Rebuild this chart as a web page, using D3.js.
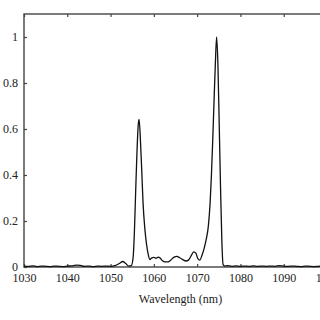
<!DOCTYPE html>
<html><head><meta charset="utf-8">
<script src="https://cdn.jsdelivr.net/npm/d3@7"></script>
<style>html,body{margin:0;padding:0;background:#fff;}svg{display:block;}</style>
</head><body>
<svg id="c" width="320" height="320"></svg>
<script>
const wavelength = [1030,1031,1032,1033,1034,1035,1036,1037,1038,1039,1040,1041,1042,1043,1044,1045,1046,1047,1048,1049,1050,1051,1052,1052.8,1053.5,1054.2,1054.8,1055.2,1055.5,1055.8,1056.1,1056.4,1056.6,1056.9,1057.2,1057.5,1057.9,1058.3,1058.7,1059.1,1059.5,1060,1060.5,1061,1061.5,1062,1062.6,1063.3,1064,1064.7,1065.3,1066,1066.7,1067.4,1068,1068.6,1069.2,1069.7,1070.2,1070.6,1071.1,1071.6,1072.1,1072.6,1073.0,1073.3,1073.6,1073.9,1074.2,1074.5,1074.8,1075.1,1075.4,1075.7,1076.0,1076.4,1077,1078,1079,1080,1081,1082,1083,1084,1085,1086,1087,1088,1089,1090,1091,1092,1093,1094,1095,1096,1097,1098,1099,1100];
const intensity = [0.004,0.003,0.005,0.002,0.004,0.003,0.002,0.004,0.003,0.002,0.004,0.005,0.008,0.007,0.003,0.004,0.002,0.004,0.003,0.004,0.003,0.006,0.015,0.024,0.015,0.004,0.006,0.04,0.15,0.33,0.50,0.62,0.642,0.55,0.42,0.28,0.17,0.10,0.055,0.032,0.04,0.042,0.038,0.043,0.038,0.027,0.022,0.022,0.032,0.043,0.046,0.04,0.032,0.026,0.03,0.048,0.066,0.06,0.035,0.03,0.05,0.08,0.12,0.18,0.28,0.40,0.55,0.72,0.88,1.0,0.88,0.62,0.35,0.12,0.01,0.004,0.006,0.003,0.005,0.003,0.004,0.003,0.005,0.003,0.004,0.003,0.004,0.003,0.006,0.004,0.003,0.004,0.003,0.002,0.004,0.003,0.002,0.003,0.004,0.003];
const xTicks = [1030,1040,1050,1060,1070,1080,1090,1100];
const yTicks = [0,0.2,0.4,0.6,0.8,1];
const xLabel = "Wavelength (nm)";

const svg = d3.select("#c");
const x = d3.scaleLinear().domain([1030,1100]).range([24,327]);
const y = d3.scaleLinear().domain([0,1.1]).range([267,14]);
const font = "'Liberation Serif', 'DejaVu Serif', serif";
const axisColor = "#444";

// spines
const g = svg.append("g");
g.append("rect").attr("x",x(1030)).attr("y",y(1.1)).attr("width",x(1100)-x(1030)).attr("height",y(0)-y(1.1))
  .attr("fill","none").attr("stroke",axisColor).attr("stroke-width",1.4);

// bottom axis
const xb = d3.axisBottom(x).tickValues(xTicks).tickSize(-3).tickPadding(6).tickFormat(d3.format("d"));
const gxb = svg.append("g").attr("transform",`translate(0,${y(0)})`).call(xb);
// top axis ticks
const xt = d3.axisTop(x).tickValues(xTicks).tickSize(-3).tickFormat("");
const gxt = svg.append("g").attr("transform",`translate(0,${y(1.1)})`).call(xt);
// left axis
const yl = d3.axisLeft(y).tickValues(yTicks).tickSize(-3).tickPadding(6).tickFormat(d=> d===0?"0":d===1?"1":d3.format(".1f")(d));
const gyl = svg.append("g").attr("transform",`translate(${x(1030)},0)`).call(yl);

[gxb,gxt,gyl].forEach(a=>{
  a.select(".domain").remove();
  a.selectAll(".tick line").attr("stroke",axisColor).attr("stroke-width",1.2);
  a.selectAll("text").attr("font-family",font).attr("font-size",12).attr("fill","#222");
});

// line
const line = d3.line().x((d,i)=>x(wavelength[i])).y(d=>y(d)).curve(d3.curveMonotoneX);
svg.append("path").datum(intensity).attr("d",line).attr("fill","none").attr("stroke","#111").attr("stroke-width",1.3);

// x label
svg.append("text").attr("x",x(1065)+5).attr("y",303).attr("text-anchor","middle")
  .attr("font-family",font).attr("font-size",12).attr("fill","#222").text(xLabel);
</script>
</body></html>
